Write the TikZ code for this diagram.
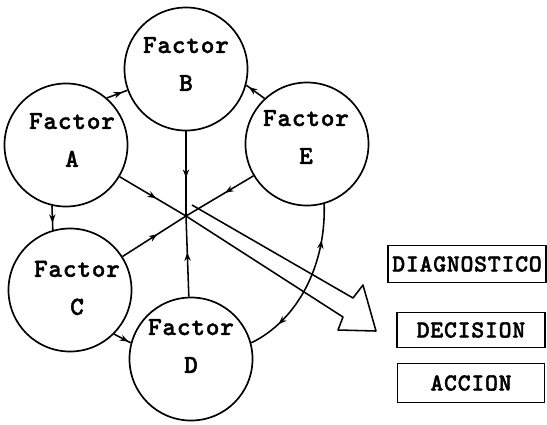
\documentclass[tikz,border=0pt]{standalone}
\usepackage{fontspec}
\newfontfamily\typefont{lmmonolt10-bold.otf}[LetterSpace=3, FakeBold=1.5]
\usetikzlibrary{arrows.meta}
\usetikzlibrary{decorations.markings}

\begin{document}
\begin{tikzpicture}[x=0.025cm, y=-0.025cm,
    factor/.style={draw, circle, line width=1.2pt, minimum size=3.075cm, inner sep=0pt},
    factxt/.style={align=center, font=\fontsize{18.5}{27}\selectfont\typefont},
    result/.style={draw, rectangle, line width=1pt, inner sep=0pt, font=\fontsize{17.5}{20}\selectfont\typefont},
    flow/.style={line width=1.1pt, postaction={decorate}, decoration={markings, mark=at position #1 with {\arrow{Stealth[length=6pt,width=4.5pt]}}}},
    flow/.default=0.55]
            \useasboundingbox (0,0) rectangle (547,424);

            % the five factors
            \node[factor] (facA) at (66,145) {};
            \node[factor] (facB) at (186,69) {};
            \node[factor] (facC) at (70,290) {};
            \node[factor] (facD) at (191,359) {};
            \node[factor] (facE) at (307,144) {};
            \node[factxt] (labA) at (72,140) {Factor\\A};
            \node[factxt] (labB) at (186,64) {Factor\\B};
            \node[factxt] (labC) at (77,288) {Factor\\C};
            \node[factxt] (labD) at (191,346) {Factor\\D};
            \node[factxt] (labE) at (306,137) {Factor\\E};

            \coordinate (hub) at (186,216);

            % into the centre
            \draw[flow] (facA) -- (hub);
            \draw[flow] (facB) -- (hub);
            \draw[flow] (facC) -- (hub);
            \draw[flow] (facD) -- (hub);
            \draw[flow=0.42] (facE) -- (hub);

            % round the ring
            \draw[flow=0.75] (facA.49) -- (facB.200);
            \draw[flow=0.85] (facE.133) -- (facB.345);
            \draw[flow=0.7] (facA.257) -- (facC.106);
            \draw[flow=0.85] (facC.315) -- (facD.165);
            \draw[line width=1.1pt, postaction={decorate}, decoration={markings,
                mark=at position 0.22 with {\arrowreversed{Stealth[length=6pt,width=4.5pt]}},
                mark=at position 0.8 with {\arrow{Stealth[length=6pt,width=4.5pt]}}}]
                (facE.286) .. controls (326,265) and (298,320) .. (facD.15);

            % big hollow arrow
            \draw[line width=1.1pt, line join=round] (hub) -- (343,317) -- (338,330) -- (376,331)
                -- (363,285) -- (353,298) -- (192,205);

            % results
            \node[result, minimum width=3.95cm, minimum height=0.925cm] (diag) at (467,264) {DIAGNOSTICO};
            \node[result, minimum width=3.7cm, minimum height=0.875cm] (deci) at (471,330) {DECISION};
            \node[result, minimum width=3.675cm, minimum height=0.975cm] (acci) at (471,383) {ACCION};
        \end{tikzpicture}
\end{document}
